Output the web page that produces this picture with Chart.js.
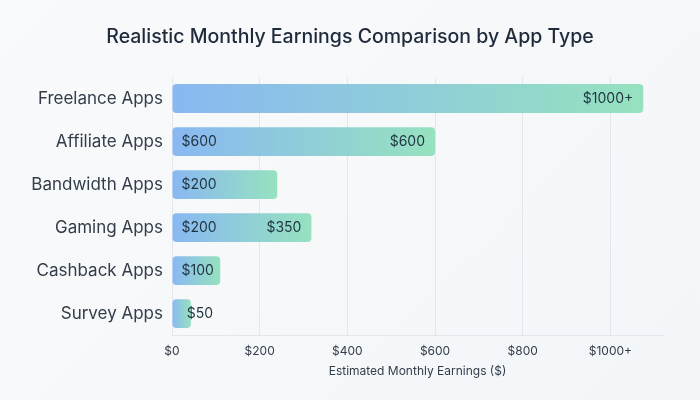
<!DOCTYPE html>
<html>
<head>
<meta charset="utf-8">
<script src="https://cdn.jsdelivr.net/npm/chart.js@4"></script>
<style>
  html, body { margin: 0; padding: 0; }
  body { width: 700px; height: 400px; background: linear-gradient(135deg, #f9fafb, #f3f6f9); }
  #wrap { width: 700px; height: 400px; }
</style>
</head>
<body>
<div id="wrap"><canvas id="earnChart"></canvas></div>
<script>
// data
const chartTitle = 'Realistic Monthly Earnings Comparison by App Type';
const categories = ['Freelance Apps', 'Affiliate Apps', 'Bandwidth Apps', 'Gaming Apps', 'Cashback Apps', 'Survey Apps'];
const earnings = [1075, 600, 240, 318, 110, 43];
const startLabels = ['', '$600', '$200', '$200', '$100', '$50'];
const endLabels = ['$1000+', '$600', '', '$350', '', ''];
const tickValues = [0, 200, 400, 600, 800, 1000];

const fontFamily = 'Inter, "Noto Sans", sans-serif';

// gradient runs along each bar, blue -> mint
function barGradient(context) {
  const chart = context.chart;
  const area = chart.chartArea;
  if (!area) return '#8cbaf0';
  const xs = chart.scales.x;
  const x0 = xs.getPixelForValue(0);
  let x1 = xs.getPixelForValue(earnings[context.dataIndex]);
  if (x1 - x0 < 2) x1 = x0 + 2;
  const g = chart.ctx.createLinearGradient(x0, 0, x1, 0);
  g.addColorStop(0, '#89b8f2');
  g.addColorStop(1, '#96e2bf');
  return g;
}

const barLabels = {
  id: 'barLabels',
  afterDatasetsDraw(chart) {
    const ctx = chart.ctx;
    const meta = chart.getDatasetMeta(0);
    ctx.save();
    ctx.font = '14px ' + fontFamily;
    ctx.fillStyle = '#1f3340';
    ctx.textBaseline = 'middle';
    meta.data.forEach((bar, i) => {
      if (startLabels[i]) {
        ctx.textAlign = 'left';
        let left = bar.base + 9;
        // very short bar: label hangs off the bar end
        if (bar.x - bar.base < 30) left = bar.x - 4;
        ctx.fillText(startLabels[i], left, bar.y);
      }
      if (endLabels[i]) {
        ctx.textAlign = 'right';
        ctx.fillText(endLabels[i], bar.x - 10, bar.y);
      }
    });
    ctx.restore();
  }
};

// title centred on the whole canvas
const pageTitle = {
  id: 'pageTitle',
  afterDraw(chart) {
    const ctx = chart.ctx;
    ctx.save();
    ctx.font = '500 19.5px ' + fontFamily;
    ctx.fillStyle = '#1f2a3a';
    ctx.textAlign = 'center';
    ctx.textBaseline = 'middle';
    ctx.fillText(chartTitle, chart.width / 2, 37);
    ctx.restore();
  }
};

new Chart(document.getElementById('earnChart'), {
  type: 'bar',
  data: {
    labels: categories,
    datasets: [{
      data: earnings,
      backgroundColor: barGradient,
      borderWidth: 0,
      borderRadius: 4,
      borderSkipped: false,
      categoryPercentage: 1,
      barPercentage: 0.67
    }]
  },
  options: {
    indexAxis: 'y',
    responsive: true,
    maintainAspectRatio: false,
    animation: false,
    layout: { padding: { top: 77, left: 20, right: 37, bottom: 21 } },
    plugins: {
      legend: { display: false },
      tooltip: { enabled: false },
      title: { display: false }
    },
    scales: {
      x: {
        min: 0,
        max: 1120,
        afterBuildTicks(scale) {
          scale.ticks = tickValues.map(v => ({ value: v }));
        },
        ticks: {
          color: '#333d4a',
          font: { family: fontFamily, size: 12 },
          maxRotation: 0,
          padding: 9,
          callback: v => v === 1000 ? '$1000+' : '$' + v
        },
        grid: { color: '#e3e6ea', drawTicks: false },
        border: { color: '#e3e6ea' },
        title: {
          display: true,
          text: 'Estimated Monthly Earnings ($)',
          color: '#333d4a',
          font: { family: fontFamily, size: 12 },
          padding: { top: -3, bottom: 0 }
        }
      },
      y: {
        afterFit(scale) { scale.width = 152; },
        ticks: {
          color: '#333d4a',
          font: { family: fontFamily, size: 17 },
          padding: 9
        },
        grid: { display: false, drawTicks: false },
        border: { color: '#e3e6ea' }
      }
    }
  },
  plugins: [barLabels, pageTitle]
});
</script>
</body>
</html>
